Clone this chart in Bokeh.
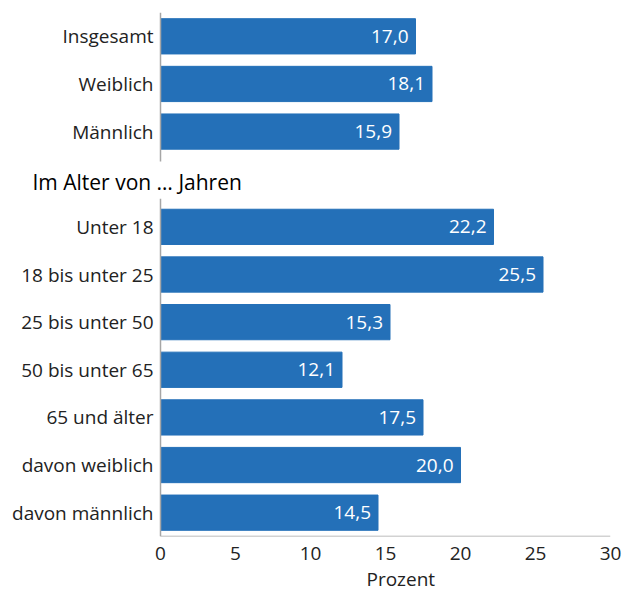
from bokeh.plotting import figure
from bokeh.models import ColumnDataSource, FixedTicker, Range1d, Title
from bokeh.embed import file_html
from bokeh.resources import INLINE
from bokeh.core.properties import value

categories = ["Insgesamt", "Weiblich", "Männlich", "Unter 18", "18 bis unter 25",
              "25 bis unter 50", "50 bis unter 65", "65 und älter",
              "davon weiblich", "davon männlich"]
values = [17.0, 18.1, 15.9, 22.2, 25.5, 15.3, 12.1, 17.5, 20.0, 14.5]
rows = [0, 1, 2, 4, 5, 6, 7, 8, 9, 10]
header = "Im Alter von … Jahren"
header_row = 3
x_ticks = [0, 5, 10, 15, 20, 25, 30]
x_label = "Prozent"

labels = [f"{v:.1f}".replace(".", ",") for v in values]
src = ColumnDataSource(dict(y=rows, v=values, lab=labels, cat=categories,
                            zero=[0] * len(rows)))

FONT = "Open Sans"
BLUE = "#2470b8"
GRAY = "#a6a6a6"
TXT = "#222222"
FS = "19px"

n = len(rows) + 1
p = figure(width=625, height=592, output_backend="svg", toolbar_location=None,
           x_range=Range1d(-160 / 15, 30), y_range=Range1d(n - 0.5, -0.5),
           min_border_left=0, min_border_right=15, min_border_top=12,
           min_border_bottom=56)
p.outline_line_color = None
p.xgrid.visible = False
p.ygrid.visible = False
p.yaxis.visible = False

p.hbar(y="y", right="v", left=0, height=0.74, source=src, color=BLUE)
p.text(x="v", y="y", text="lab", source=src, x_offset=-7, text_align="right",
       text_baseline="middle", text_color="white", text_font=value(FONT),
       text_font_size=FS)

# category labels
p.text(x="zero", y="y", text="cat", source=src, x_offset=-7, text_align="right",
       text_baseline="middle", text_color=TXT, text_font=value(FONT),
       text_font_size=FS)
# header
p.text(x=[0], y=[header_row], text=[header], x_offset=-128, y_offset=3,
       text_align="left", text_baseline="middle", text_color="#000000",
       text_font=value(FONT), text_font_size="21px")

# broken vertical axis line
p.segment(x0=[0, 0], y0=[-0.5, header_row + 0.41], x1=[0, 0],
          y1=[header_row - 0.37, n - 0.5], line_color=GRAY, line_width=1.5)
# horizontal axis line
p.segment(x0=[x_ticks[0]], y0=[n - 0.5], x1=[x_ticks[-1]], y1=[n - 0.5],
          line_color=GRAY, line_width=1.5)

xa = p.xaxis[0]
xa.ticker = FixedTicker(ticks=x_ticks)
xa.axis_line_color = None
xa.major_tick_line_color = None
xa.minor_tick_line_color = None
xa.major_tick_out = 0
xa.major_tick_in = 0
xa.minor_tick_out = 0
xa.major_label_standoff = 10
xa.major_label_text_font = FONT
xa.major_label_text_font_size = FS
xa.major_label_text_color = TXT

p.add_layout(Title(text=x_label, align="left", offset=366, text_font=FONT,
                   text_font_size=FS, text_font_style="normal",
                   text_color=TXT, standoff=2), "below")

open("out.html", "w").write(file_html(p, INLINE))
